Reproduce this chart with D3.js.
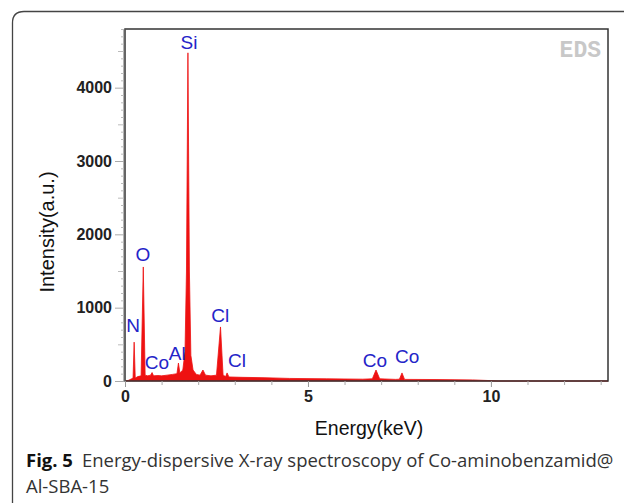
<!DOCTYPE html>
<html>
<head>
<meta charset="utf-8">
<script src="https://cdn.jsdelivr.net/npm/d3@7"></script>
<style>
  html, body { margin: 0; padding: 0; background: #fff; }
  svg { display: block; }
</style>
</head>
<body>
<svg id="chart" width="624" height="503"></svg>
<script>
// ---- data ----
const energyKeV = [0.00, 0.10, 0.18, 0.22, 0.25, 0.28, 0.35, 0.44, 0.50, 0.55, 0.62, 0.70, 0.74, 0.78,
  0.90, 1.00, 1.15, 1.30, 1.42, 1.46, 1.50, 1.58, 1.64, 1.68, 1.72, 1.76, 1.80, 1.86, 1.95, 2.05,
  2.13, 2.20, 2.35, 2.50, 2.61, 2.68, 2.75, 2.79, 2.84, 3.20, 3.80, 4.50, 5.50, 6.50, 6.76, 6.86,
  6.96, 7.40, 7.50, 7.57, 7.64, 8.50, 9.50, 10.00, 10.20, 13.20];
const counts = [0, 10, 30, 40, 530, 40, 60, 70, 1555, 80, 70, 80, 115, 70,
  75, 70, 80, 90, 100, 245, 110, 150, 400, 1500, 4475, 1500, 350, 150, 90, 80,
  150, 80, 70, 80, 737, 80, 60, 110, 55, 50, 45, 35, 30, 25, 30, 150,
  30, 22, 25, 110, 22, 20, 15, 5, 0, 0];
const peakNames = ["Si", "O", "N", "Co", "Al", "Cl", "Cl", "Co", "Co"];
const peakLabelE = [1.75, 0.49, 0.22, 0.87, 1.43, 2.60, 3.06, 6.83, 7.71];
const peakLabelY = [4527, 1636, 668, 164, 290, 805, 191, 191, 245];
const xTicks = [0, 5, 10];
const xMinor = [1, 2, 3, 4, 6, 7, 8, 9, 11, 12, 13];
const yTicks = [0, 1000, 2000, 3000, 4000];
const xTitle = "Energy(keV)";
const yTitle = "Intensity(a.u.)";
const captionBold = "Fig. 5";
const captionLine1 = "Energy-dispersive X-ray spectroscopy of Co-aminobenzamid@";
const captionLine2 = "Al-SBA-15";

// ---- drawing ----
const svg = d3.select("#chart");
const L = 125, R = 608, T = 29, B = 381;
const x = d3.scaleLinear().domain([0, 13.2]).range([L, R]);
const y = d3.scaleLinear().domain([0, 4800]).range([B, T]);

// card border
svg.append("path")
  .attr("d", "M12.5,503 L12.5,23 Q12.5,11.5 24,11.5 L624,11.5")
  .attr("fill", "none").attr("stroke", "#444").attr("stroke-width", 1.3);

const pts = energyKeV.map((e, i) => [e, counts[i]]);
svg.append("path")
  .datum(pts)
  .attr("d", d3.area().x(d => x(d[0])).y0(y(0)).y1(d => y(d[1])))
  .attr("fill", "#ee1111").attr("stroke", "#ee1111").attr("stroke-width", 0.8);

// frame
svg.append("rect").attr("x", L).attr("y", T).attr("width", R - L).attr("height", B - T)
  .attr("fill", "none").attr("stroke", "#333").attr("stroke-width", 1.5);
svg.append("line").attr("x1", L - 0.5).attr("x2", L - 0.5).attr("y1", T).attr("y2", B)
  .attr("stroke", "#666").attr("stroke-width", 2);

const tickFont = "Liberation Sans, Arial, sans-serif";

// x axis
const xAxis = d3.axisBottom(x).tickValues(xTicks).tickSize(6).tickPadding(4).tickFormat(d3.format("d"));
const gx = svg.append("g").attr("transform", `translate(0,${B})`).call(xAxis);
gx.select(".domain").remove();
gx.selectAll(".tick line").attr("stroke", "#999");
gx.selectAll("text").style("font-family", tickFont).style("font-size", "16px").style("font-weight", "bold").attr("fill", "#222");
const gxm = svg.append("g").attr("transform", `translate(0,${B})`)
  .call(d3.axisBottom(x).tickValues(xMinor).tickSize(4).tickFormat(""));
gxm.select(".domain").remove();
gxm.selectAll(".tick line").attr("stroke", "#aaa");

// y axis
const yMinor = d3.range(0, 4801, 100).filter(v => v % 500 !== 0);
const yMid = d3.range(500, 4801, 1000);
const gym = svg.append("g").attr("transform", `translate(${L - 1},0)`)
  .call(d3.axisLeft(y).tickValues(yMinor).tickSize(3).tickFormat(""));
gym.select(".domain").remove();
gym.selectAll(".tick line").attr("stroke", "#bbb");
const gyd = svg.append("g").attr("transform", `translate(${L - 1},0)`)
  .call(d3.axisLeft(y).tickValues(yMid).tickSize(6).tickFormat(""));
gyd.select(".domain").remove();
gyd.selectAll(".tick line").attr("stroke", "#bbb");
const gy = svg.append("g").attr("transform", `translate(${L - 1},0)`)
  .call(d3.axisLeft(y).tickValues(yTicks).tickSize(9).tickPadding(3).tickFormat(d3.format("d")));
gy.select(".domain").remove();
gy.selectAll(".tick line").attr("stroke", "#aaa");
gy.selectAll("text").style("font-family", tickFont).style("font-size", "16px").style("font-weight", "bold").attr("fill", "#222");

// titles
svg.append("text").attr("x", 369).attr("y", 435).attr("text-anchor", "middle")
  .style("font-family", tickFont).style("font-size", "19.5px").attr("fill", "#111").text(xTitle);
svg.append("text").attr("transform", "translate(54,232) rotate(-90)").attr("text-anchor", "middle")
  .style("font-family", tickFont).style("font-size", "20px").attr("fill", "#111").text(yTitle);

// EDS watermark
svg.append("text").attr("x", 601).attr("y", 57).attr("text-anchor", "end")
  .style("font-family", "Liberation Mono, DejaVu Sans Mono, monospace").style("font-weight", "bold")
  .style("font-size", "23px").attr("fill", "#c8c8c8").text("EDS");

// peak labels
svg.append("g").selectAll("text").data(peakNames).join("text")
  .attr("x", (d, i) => x(peakLabelE[i]))
  .attr("y", (d, i) => y(peakLabelY[i]))
  .attr("text-anchor", "middle")
  .style("font-family", tickFont).style("font-size", "19px").attr("fill", "#2424c8")
  .text(d => d);

// caption
const capFont = "Open Sans, Noto Sans, sans-serif";
const cap = svg.append("text").attr("x", 26).attr("y", 467)
  .style("font-family", capFont).style("font-size", "18.5px").attr("fill", "#333");
cap.append("tspan").style("font-weight", "bold").attr("fill", "#111").text(captionBold);
cap.append("tspan").attr("dx", 9).text(captionLine1);
svg.append("text").attr("x", 26).attr("y", 493)
  .style("font-family", capFont).style("font-size", "18.5px").attr("fill", "#333")
  .text(captionLine2);
</script>
</body>
</html>
